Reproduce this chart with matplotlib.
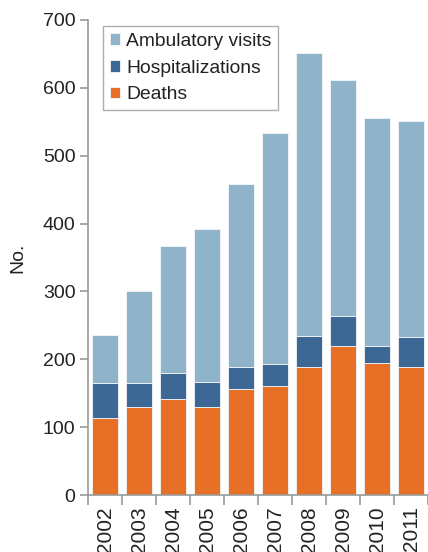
import matplotlib
matplotlib.use("Agg")
import matplotlib.pyplot as plt
import numpy as np

plt.rcParams['font.family'] = ['Liberation Sans', 'DejaVu Sans']

years = ["2002", "2003", "2004", "2005", "2006", "2007", "2008", "2009", "2010", "2011"]
totals = [236, 300, 367, 392, 458, 533, 652, 611, 555, 551]
hosp_top = [165, 165, 180, 167, 189, 193, 234, 264, 219, 233]
deaths = [114, 129, 142, 129, 156, 160, 189, 219, 194, 189]

hosp = [h - d for h, d in zip(hosp_top, deaths)]
ambulatory = [t - h for t, h in zip(totals, hosp_top)]

c_amb = "#8fb4c9"
c_hosp = "#3d6896"
c_death = "#e87026"
gray = "#9a9a9a"
txt = "#222222"

fig = plt.figure(figsize=(4.28, 5.52), dpi=100)
ax = fig.add_axes([88/428, (552-495)/552, (428-88)/428, (495-20)/552])

x = np.arange(len(years))
w = 0.78
ax.bar(x, deaths, w, color=c_death, edgecolor="#f3f6f8", linewidth=0.6, label="Deaths")
ax.bar(x, hosp, w, bottom=deaths, color=c_hosp, edgecolor="#f3f6f8", linewidth=0.6, label="Hospitalizations")
ax.bar(x, ambulatory, w, bottom=hosp_top, color=c_amb, edgecolor="#f3f6f8", linewidth=0.6, label="Ambulatory visits")

ax.set_xlim(-0.5, len(years) - 0.5)
ax.set_ylim(0, 700)
ax.set_yticks(range(0, 701, 100))
ax.tick_params(axis='y', labelsize=14, length=6, width=1.2, color=gray, labelcolor=txt, pad=3)
ax.set_xticks(np.arange(-0.5, len(years), 1.0))
ax.set_xticklabels([])
ax.set_xticks(x, minor=True)
ax.set_xticklabels(years, minor=True, rotation=90, fontsize=15, color=txt)
ax.tick_params(axis='x', which='major', length=7, width=1.2, color=gray)
ax.tick_params(axis='x', which='minor', length=0, pad=8)

for s in ["top", "right"]:
    ax.spines[s].set_visible(False)
for s in ["left", "bottom"]:
    ax.spines[s].set_color(gray)
    ax.spines[s].set_linewidth(1.2)

ax.set_ylabel("No.", fontsize=14, color=txt, labelpad=12)

handles, labels = ax.get_legend_handles_labels()
leg = ax.legend(handles[::-1], labels[::-1], loc="upper left", bbox_to_anchor=(0.044, 0.987),
                fontsize=13.9, frameon=True, fancybox=False, handlelength=0.55, handleheight=0.55,
                handletextpad=0.3, borderpad=0.35, labelspacing=0.5, borderaxespad=0)
leg.get_frame().set_edgecolor(gray)
leg.get_frame().set_linewidth(1.0)
for t in leg.get_texts():
    t.set_color(txt)

fig.savefig("out.png", dpi=100)
